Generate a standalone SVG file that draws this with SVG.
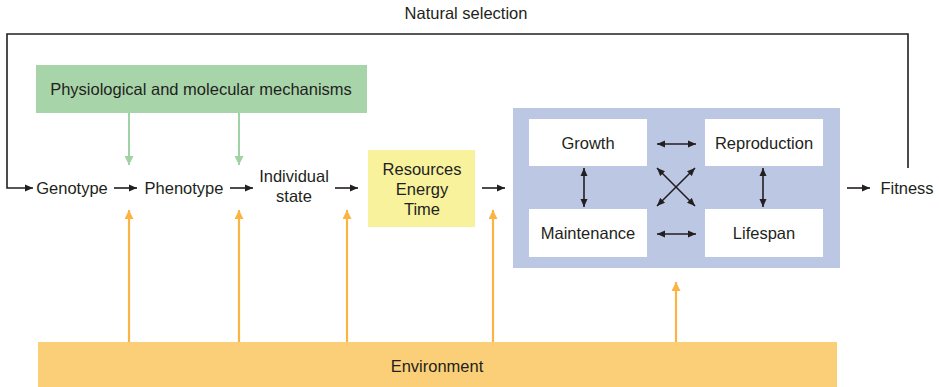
<svg xmlns="http://www.w3.org/2000/svg" width="939" height="387" viewBox="0 0 939 387">
<style>
text{font-family:"Liberation Sans",Arial,sans-serif;font-size:16.5px;fill:#231f20;text-anchor:middle}
.k{stroke:#231f20;stroke-width:1.6;fill:none}
.g{stroke:#9fd3a3;stroke-width:2;fill:none}
.o{stroke:#fbb443;stroke-width:2.2;fill:none}
</style>
<defs>
<marker id="ak" viewBox="0 0 8 8" refX="8" refY="4" markerWidth="8" markerHeight="8" markerUnits="userSpaceOnUse" orient="auto-start-reverse"><path d="M0,0.5L8,4L0,7.5z" fill="#231f20"/></marker>
<marker id="ag" viewBox="0 0 9 9" refX="9" refY="4.5" markerWidth="9" markerHeight="9" markerUnits="userSpaceOnUse" orient="auto"><path d="M0,0L9,4.5L0,9z" fill="#9fd3a3"/></marker>
<marker id="ao" viewBox="0 0 9 9" refX="9" refY="4.5" markerWidth="9" markerHeight="9" markerUnits="userSpaceOnUse" orient="auto"><path d="M0,0L9,4.5L0,9z" fill="#fbb443"/></marker>
</defs>
<g id="label-natural-selection"><text x="466" y="19">Natural selection</text></g>
<g id="node-mechanisms"><rect x="36" y="65" width="331" height="48" fill="#a8d4aa"/><text x="201" y="95">Physiological and molecular mechanisms</text></g>
<g id="node-genotype"><text x="72" y="194">Genotype</text></g>
<g id="node-phenotype"><text x="184" y="194">Phenotype</text></g>
<g id="node-state"><text x="294" y="182">Individual</text><text x="294" y="202">state</text></g>
<g id="node-resources"><rect x="368" y="150" width="107" height="77" fill="#f8f29d"/><text x="422" y="175">Resources</text><text x="422" y="195">Energy</text><text x="422" y="215">Time</text></g>
<g id="node-traits"><rect x="513" y="108" width="327" height="160" fill="#bcc8e3"/></g>
<g id="node-growth"><rect x="529" y="119" width="118" height="47" fill="#fff"/><text x="588" y="149">Growth</text></g>
<g id="node-reproduction"><rect x="705" y="119" width="118" height="47" fill="#fff"/><text x="764" y="149">Reproduction</text></g>
<g id="node-maintenance"><rect x="529" y="209" width="118" height="48" fill="#fff"/><text x="588" y="239">Maintenance</text></g>
<g id="node-lifespan"><rect x="705" y="209" width="118" height="48" fill="#fff"/><text x="764" y="239">Lifespan</text></g>
<g id="node-fitness"><text x="907" y="194">Fitness</text></g>
<g id="node-environment"><rect x="38" y="342" width="799" height="45" fill="#fbcf77"/><text x="437" y="372">Environment</text></g>
<g id="connectors">
<path class="k" d="M908,168V34H7V188H33" marker-end="url(#ak)"/>
<path class="k" d="M114,188H137" marker-end="url(#ak)"/>
<path class="k" d="M230,188H253" marker-end="url(#ak)"/>
<path class="k" d="M335,188H358" marker-end="url(#ak)"/>
<path class="k" d="M482,188H505" marker-end="url(#ak)"/>
<path class="k" d="M847,188H870" marker-end="url(#ak)"/>
<path class="k" d="M657,144H696" marker-start="url(#ak)" marker-end="url(#ak)"/>
<path class="k" d="M657,234H696" marker-start="url(#ak)" marker-end="url(#ak)"/>
<path class="k" d="M584,168V207" marker-start="url(#ak)" marker-end="url(#ak)"/>
<path class="k" d="M763,168V207" marker-start="url(#ak)" marker-end="url(#ak)"/>
<path class="k" d="M657,168L695,206" marker-start="url(#ak)" marker-end="url(#ak)"/>
<path class="k" d="M695,168L657,206" marker-start="url(#ak)" marker-end="url(#ak)"/>
<path class="g" d="M129,113V165" marker-end="url(#ag)"/>
<path class="g" d="M239,113V165" marker-end="url(#ag)"/>
<path class="o" d="M129,342V210" marker-end="url(#ao)"/>
<path class="o" d="M239,342V210" marker-end="url(#ao)"/>
<path class="o" d="M347,342V210" marker-end="url(#ao)"/>
<path class="o" d="M493,342V210" marker-end="url(#ao)"/>
<path class="o" d="M676,342V282" marker-end="url(#ao)"/>
</g>
</svg>
